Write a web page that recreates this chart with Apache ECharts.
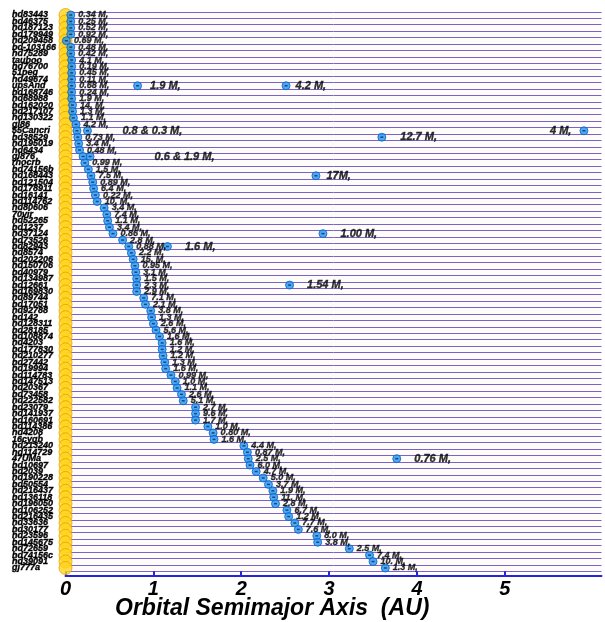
<!DOCTYPE html>
<html>
<head>
<meta charset="utf-8">
<script src="https://cdn.jsdelivr.net/npm/echarts@6/dist/echarts.min.js"></script>
<style>
  html, body { margin: 0; padding: 0; background: #ffffff; }
  #chart { width: 605px; height: 622px; }
</style>
</head>
<body>
<div id="chart"></div>
<script>
// Host stars, one row each, top to bottom
const stars = ['hd83443','hd46375','hd187123','hd179949','hd209458','bd-103166','hd75289','tauboo','hd76700','51peg',
  'hd49674','upsAnd','hd168746','hd68988','hd162020','hd217107','hd130322','gl86','55Cancri','hd38529',
  'hd195019','hd6434','gl876','rhocrb','hd74156b','hd168443','hd121504','hd178911','hd16141','hd114762',
  'hd80606','70vir','hd52265','hd1237','hd37124','hd73526','hd82943','hd8574','hd202206','hd150706',
  'hd40979','hd134987','hd12661','hd169830','hd89744','hd17051','hd92788','hd142','hd128311','hd28185',
  'hd108874','hd4203','hd177830','hd210277','hd27442','hd19994','hd114783','hd147513','hd20367','hd73458',
  'hd222582','hd23079','hd141937','hd160691','hd114386','hd4208','16cygb','hd213240','hd114729','47UMa',
  'hd10697','hd2039','hd190228','hd50554','hd216437','hd136118','hd196050','hd106252','hd216435','hd33636',
  'hd30177','hd23596','hd145675','hd72659','hd74156c','hd39091','gj777a'];

// Semimajor axis (AU) of the innermost planet of each star
const innerA = [0.06,0.06,0.06,0.06,0.01,0.06,0.06,0.07,0.07,0.07,
  0.07,0.07,0.07,0.07,0.08,0.08,0.09,0.12,0.13,0.14,
  0.15,0.16,0.20,0.22,0.26,0.29,0.31,0.32,0.34,0.36,
  0.44,0.47,0.48,0.50,0.54,0.65,0.72,0.75,0.77,0.79,
  0.80,0.81,0.81,0.81,0.89,0.91,0.97,0.98,1.00,1.03,
  1.07,1.10,1.10,1.11,1.13,1.14,1.20,1.25,1.27,1.32,
  1.34,1.48,1.48,1.48,1.62,1.68,1.69,2.03,2.07,2.08,
  2.10,2.17,2.25,2.31,2.36,2.37,2.39,2.52,2.54,2.61,
  2.65,2.86,2.87,3.23,3.46,3.50,3.64];

// Minimum mass (Jupiter masses) written beside the inner planet
const innerMass = ['0.34','0.25','0.52','0.92','0.69','0.48','0.42','4.1','0.19','0.45',
  '0.11','0.68','0.24','1.9','14.','1.3','1.1','4.2','0.8 & 0.3','0.73',
  '3.4','0.48','0.6 & 1.9','0.99','1.5','7.5','0.89','6.4','0.22','10.',
  '3.4','7.4','1.1','3.4','0.86','2.8','0.88','2.2','15.','0.95',
  '3.1','1.5','2.3','2.9','7.1','2.1','3.8','1.3','2.6','5.6',
  '1.6','1.6','1.2','1.2','1.3','1.6','0.99','1.0','1.1','2.6',
  '5.1','2.7','9.6','1.7','1.0','0.80','1.6','4.4','0.87','2.5',
  '6.0','4.7','5.0','3.7','1.9','11.','2.8','6.7','1.2','7.7',
  '7.6','8.0','3.8','2.5','7.4','10.','1.3'];

// Further planets in multi-planet systems ('' = mass already given in the row's first label)
const extraStar = ['upsAnd','upsAnd','55Cancri','55Cancri','hd38529','gl876','hd168443','hd37124','hd82943','hd12661','47UMa'];
const extraA    = [0.82, 2.51, 0.25, 5.90, 3.60, 0.28, 2.85, 2.93, 1.16, 2.55, 3.77];
const extraMass = ['1.9', '4.2', '', '4', '12.7', '', '17', '1.00', '1.6', '1.54', '0.76'];

const xTicks = [0, 1, 2, 3, 4, 5];

// ---- styling ----
const FONT = '"Liberation Sans", Arial, Helvetica, sans-serif';
const DOT_BLUE = '#2294f0';
const wideLabelGap = { '55Cancri': 41, 'gl876': 67 };
const extraGap = { '1.9': 8, '4.2': 5, '12.7': 14, '17': 6, '1.00': 13, '1.6': 13, '1.54': 13, '0.76': 13 };

const labelBase = {
  show: true, position: 'right', distance: 3, color: '#000',
  fontFamily: FONT, fontSize: 9, fontWeight: 'bold', fontStyle: 'italic',
  textBorderColor: '#000', textBorderWidth: 0.35
};

const innerData = stars.map((s, i) => {
  const item = { value: [innerA[i], s], label: { formatter: innerMass[i] + ' M,' } };
  if (wideLabelGap[s] !== undefined) {
    item.label.fontSize = 11;
    item.label.distance = wideLabelGap[s];
  }
  return item;
});

const extraData = extraStar.map((s, i) => {
  const m = extraMass[i];
  const item = { value: [extraA[i], s], label: { show: m !== '' } };
  if (m === '4') {
    item.label.formatter = '4 M,';
    item.label.position = 'left';
    item.label.distance = 8;
  } else if (m !== '') {
    item.label.formatter = (m === '17' ? '17M' : m + ' M') + ',';
    item.label.distance = extraGap[m] !== undefined ? extraGap[m] : 10;
  }
  return item;
});

const allPlanets = innerData.map(d => d.value).concat(extraData.map(d => d.value));

const chart = echarts.init(document.getElementById('chart'), null, { renderer: 'canvas' });

chart.setOption({
  animation: false,
  backgroundColor: '#ffffff',
  grid: {
    left: 65.5, right: 3.5, top: 11.8, bottom: 50.8,
    show: true, backgroundColor: '#fdfcf8', borderWidth: 0
  },
  xAxis: {
    type: 'value', min: 0, max: 6.1, offset: 5,
    axisLine: { show: true, lineStyle: { color: '#2424d8', width: 2 } },
    axisTick: { show: true, inside: true, length: 5, customValues: xTicks,
      lineStyle: { color: '#2424d8', width: 2 } },
    axisLabel: { customValues: xTicks, margin: 3, color: '#000', fontFamily: FONT,
      fontSize: 20, fontWeight: 'bold', fontStyle: 'italic' },
    splitLine: { show: false }
  },
  yAxis: {
    type: 'category', data: stars, inverse: true, boundaryGap: true,
    axisLine: { show: false }, axisTick: { show: false },
    axisLabel: { interval: 0, align: 'left', margin: 53.5, color: '#000', fontFamily: FONT,
      fontSize: 9, fontWeight: 'bold', fontStyle: 'italic',
      textBorderColor: '#000', textBorderWidth: 0.35 },
    splitLine: { show: true, interval: 0, lineStyle: { color: '#7c62d0', width: 1 } }
  },
  graphic: [{
    type: 'text', left: 275 - 160, top: 597,
    style: { text: 'Orbital Semimajor Axis  (AU)', x: 0, y: 0, width: 320, align: 'center',
      fill: '#000', font: 'italic bold 23px ' + FONT }
  }],
  series: [
    {
      // host stars
      type: 'scatter', clip: false, silent: true, z: 3,
      symbol: 'circle', symbolSize: 13,
      itemStyle: { color: '#ffd41c', borderColor: '#eda000', borderWidth: 1 },
      data: stars.map(s => [0, s])
    },
    {
      type: 'scatter', clip: false, silent: true, z: 4,
      symbol: 'circle', symbolSize: 8,
      itemStyle: { color: DOT_BLUE, borderColor: '#0d63c0', borderWidth: 1 },
      label: labelBase,
      data: innerData
    },
    {
      type: 'scatter', clip: false, silent: true, z: 4,
      symbol: 'circle', symbolSize: 8,
      itemStyle: { color: DOT_BLUE, borderColor: '#0d63c0', borderWidth: 1 },
      label: Object.assign({}, labelBase, { fontSize: 11 }),
      data: extraData
    },
    {
      // dark core of each planet marker
      type: 'scatter', clip: false, silent: true, z: 5,
      symbol: 'rect', symbolSize: [3, 1.5],
      itemStyle: { color: '#0a2c70' },
      data: allPlanets
    }
  ]
});
</script>
</body>
</html>
